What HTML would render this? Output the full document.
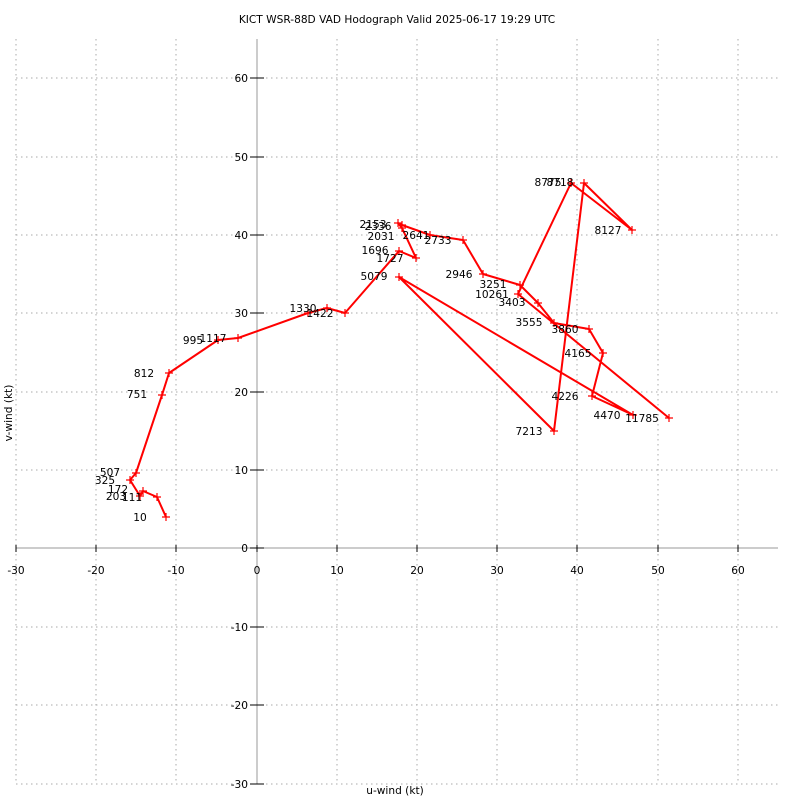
<!DOCTYPE html>
<html><head><style>body{margin:0;background:#fff}svg{display:block}text{font-family:"DejaVu Sans","Liberation Sans",sans-serif;font-size:10.6px;fill:#000}</style></head>
<body>
<svg width="800" height="800" xmlns="http://www.w3.org/2000/svg">
<rect width="800" height="800" fill="#fff"/>
<text x="397" y="23" text-anchor="middle">KICT WSR-88D VAD Hodograph Valid 2025-06-17 19:29 UTC</text>
<g stroke="#aaa" stroke-dasharray="1.5,3.5" stroke-width="1">
<line x1="16" y1="39" x2="16" y2="784"/><line x1="96" y1="39" x2="96" y2="784"/><line x1="176" y1="39" x2="176" y2="784"/><line x1="337" y1="39" x2="337" y2="784"/><line x1="417" y1="39" x2="417" y2="784"/><line x1="497" y1="39" x2="497" y2="784"/><line x1="577" y1="39" x2="577" y2="784"/><line x1="658" y1="39" x2="658" y2="784"/><line x1="738" y1="39" x2="738" y2="784"/>
<line x1="16" y1="78" x2="778" y2="78"/><line x1="16" y1="157" x2="778" y2="157"/><line x1="16" y1="235" x2="778" y2="235"/><line x1="16" y1="313" x2="778" y2="313"/><line x1="16" y1="392" x2="778" y2="392"/><line x1="16" y1="470" x2="778" y2="470"/><line x1="16" y1="627" x2="778" y2="627"/><line x1="16" y1="705" x2="778" y2="705"/><line x1="16" y1="784" x2="778" y2="784"/>
</g>
<line x1="257" y1="39" x2="257" y2="784" stroke="#999"/>
<line x1="16" y1="548" x2="778" y2="548" stroke="#999"/>
<g stroke="#000">
<line x1="16" y1="545" x2="16" y2="552"/><line x1="96" y1="545" x2="96" y2="552"/><line x1="176" y1="545" x2="176" y2="552"/><line x1="257" y1="545" x2="257" y2="552"/><line x1="337" y1="545" x2="337" y2="552"/><line x1="417" y1="545" x2="417" y2="552"/><line x1="497" y1="545" x2="497" y2="552"/><line x1="577" y1="545" x2="577" y2="552"/><line x1="658" y1="545" x2="658" y2="552"/><line x1="738" y1="545" x2="738" y2="552"/>
<line x1="250" y1="78" x2="264" y2="78"/><line x1="250" y1="157" x2="264" y2="157"/><line x1="250" y1="235" x2="264" y2="235"/><line x1="250" y1="313" x2="264" y2="313"/><line x1="250" y1="392" x2="264" y2="392"/><line x1="250" y1="470" x2="264" y2="470"/><line x1="250" y1="548" x2="264" y2="548"/><line x1="250" y1="627" x2="264" y2="627"/><line x1="250" y1="705" x2="264" y2="705"/><line x1="250" y1="784" x2="264" y2="784"/>
</g>
<g text-anchor="middle">
<text x="16" y="574">-30</text><text x="96" y="574">-20</text><text x="176" y="574">-10</text><text x="257" y="574">0</text><text x="337" y="574">10</text><text x="417" y="574">20</text><text x="497" y="574">30</text><text x="577" y="574">40</text><text x="658" y="574">50</text><text x="738" y="574">60</text>
</g>
<g text-anchor="end">
<text x="248" y="82">60</text><text x="248" y="161">50</text><text x="248" y="239">40</text><text x="248" y="317">30</text><text x="248" y="396">20</text><text x="248" y="474">10</text><text x="248" y="552">0</text><text x="248" y="631">-10</text><text x="248" y="709">-20</text><text x="248" y="788">-30</text>
</g>
<text x="395" y="794" text-anchor="middle">u-wind (kt)</text>
<text transform="translate(12,413) rotate(-90)" text-anchor="middle">v-wind (kt)</text>
<polyline fill="none" stroke="#f00" stroke-width="2" stroke-linejoin="round" points="166,517 157,497 143,491 140,496 130,480 136,473 162,395 169,373 218,340 238,338 308,313 327,308 345,313 399,251 416,258 402,228 398,223 402,225 430,235 463,240 483,274 520,285 538,303 554,323 589,329 603,353 592,396 633,415 399,277 554,431 584,183 632,230 571,183 518,294 669,418"/>
<g stroke="#f00" stroke-width="1.2">
<path d="M162,517h8M166,513v8 M153,497h8M157,493v8 M139,491h8M143,487v8 M136,496h8M140,492v8 M126,480h8M130,476v8 M132,473h8M136,469v8 M158,395h8M162,391v8 M165,373h8M169,369v8 M214,340h8M218,336v8 M234,338h8M238,334v8 M304,313h8M308,309v8 M323,308h8M327,304v8 M341,313h8M345,309v8 M395,251h8M399,247v8 M412,258h8M416,254v8 M398,228h8M402,224v8 M394,223h8M398,219v8 M398,225h8M402,221v8 M426,235h8M430,231v8 M459,240h8M463,236v8 M479,274h8M483,270v8 M516,285h8M520,281v8 M534,303h8M538,299v8 M550,323h8M554,319v8 M585,329h8M589,325v8 M599,353h8M603,349v8 M588,396h8M592,392v8 M629,415h8M633,411v8 M395,277h8M399,273v8 M550,431h8M554,427v8 M580,183h8M584,179v8 M628,230h8M632,226v8 M567,183h8M571,179v8 M514,294h8M518,290v8 M665,418h8M669,414v8"/>
</g>
<g text-anchor="middle">
<text x="140" y="521">10</text><text x="132" y="501">111</text><text x="118" y="493">172</text><text x="116" y="500">203</text><text x="105" y="484">325</text><text x="110" y="476">507</text><text x="137" y="398">751</text><text x="144" y="377">812</text><text x="193" y="344">995</text><text x="213" y="342">1117</text><text x="303" y="312">1330</text><text x="320" y="317">1422</text><text x="375" y="254">1696</text><text x="390" y="262">1727</text><text x="381" y="240">2031</text><text x="373" y="228">2153</text><text x="378" y="230">2336</text><text x="416" y="239">2641</text><text x="438" y="244">2733</text><text x="459" y="278">2946</text><text x="493" y="288">3251</text><text x="512" y="306">3403</text><text x="529" y="326">3555</text><text x="565" y="333">3860</text><text x="578" y="357">4165</text><text x="565" y="400">4226</text><text x="607" y="419">4470</text><text x="374" y="280">5079</text><text x="529" y="435">7213</text><text x="608" y="234">8127</text><text x="548" y="186">8775</text><text x="560" y="186">8718</text><text x="492" y="298">10261</text><text x="642" y="422">11785</text>
</g>
</svg>
</body></html>
